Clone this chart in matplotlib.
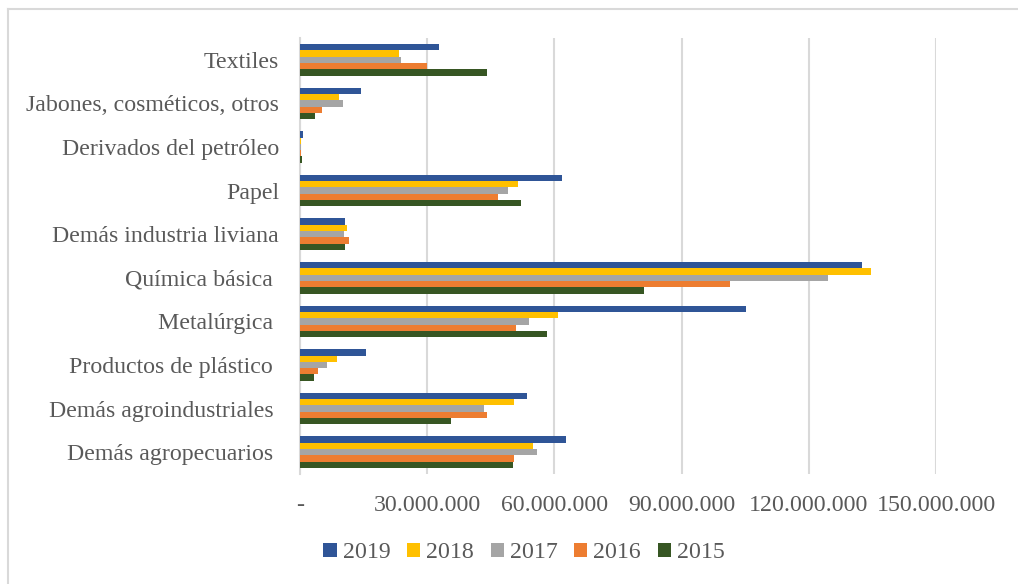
import matplotlib
matplotlib.use("Agg")
import matplotlib.pyplot as plt
import numpy as np
from matplotlib.lines import Line2D
from matplotlib.ticker import FuncFormatter

categories = ["Textiles", "Jabones, cosméticos, otros", "Derivados del petróleo", "Papel",
              "Demás industria liviana", "Química básica ", "Metalúrgica ",
              "Productos de plástico ", "Demás agroindustriales ", "Demás agropecuarios "]
years = ["2019", "2018", "2017", "2016", "2015"]
v2019 = [32.8e6, 14.3e6, 0.6e6, 61.9e6, 10.6e6, 132.5e6, 105.1e6, 15.5e6, 53.5e6, 62.7e6]
v2018 = [23.3e6, 9.2e6, 0.3e6, 51.4e6, 11.2e6, 134.7e6, 60.9e6, 8.7e6, 50.5e6, 55.0e6]
v2017 = [23.9e6, 10.2e6, 0.3e6, 49.1e6, 10.4e6, 124.5e6, 54.0e6, 6.4e6, 43.5e6, 55.9e6]
v2016 = [30.0e6, 5.3e6, 0.2e6, 46.7e6, 11.5e6, 101.4e6, 51.0e6, 4.2e6, 44.2e6, 50.5e6]
v2015 = [44.1e6, 3.6e6, 0.4e6, 52.2e6, 10.6e6, 81.2e6, 58.3e6, 3.2e6, 35.6e6, 50.2e6]
series = [v2019, v2018, v2017, v2016, v2015]
colors = ["#2F5597", "#FFC000", "#A5A5A5", "#ED7D31", "#375623"]
xticks = [0, 30e6, 60e6, 90e6, 120e6, 150e6]

plt.rcParams['font.family'] = ['Liberation Serif', 'DejaVu Serif']
txt = "#595959"
fs = 17.2

fig = plt.figure(figsize=(10.18, 5.84), dpi=100)
fig.add_artist(Line2D([8/1018, 8/1018], [0, 1 - 9/584], transform=fig.transFigure,
                      color="#D9D9D9", linewidth=1.5))
fig.add_artist(Line2D([8/1018, 1], [1 - 9/584, 1 - 9/584], transform=fig.transFigure,
                      color="#D9D9D9", linewidth=1.5))
ax = fig.add_axes([300/1018, 1 - 474/584, 636/1018, 436/584])

n = len(categories)
bh = 0.145
ypos = np.arange(n)
for i, (vals, col, yr) in enumerate(zip(series, colors, years)):
    offs = (i - 2) * bh
    ax.barh(ypos + offs, vals, height=bh, color=col, label=yr, edgecolor="none", zorder=3)

ax.set_ylim(n - 0.5, -0.5)
ax.set_xlim(0, 150e6)
ax.set_xticks(xticks)
ax.xaxis.set_major_formatter(FuncFormatter(
    lambda x, p: "-" if x == 0 else f"{int(x):,}".replace(",", ".")))
ax.set_yticks(ypos)
ax.set_yticklabels(categories)
ax.tick_params(axis='y', length=0, pad=15, labelsize=fs, labelcolor=txt)
ax.tick_params(axis='x', length=0, pad=15, labelsize=fs, labelcolor=txt)
ax.grid(axis='x', color="#D9D9D9", linewidth=1.5, zorder=0)
for s in ["top", "right", "bottom"]:
    ax.spines[s].set_visible(False)
ax.spines["left"].set_color("#D9D9D9")
ax.spines["left"].set_linewidth(1.5)

leg = fig.legend(loc="center", bbox_to_anchor=(524/1018, 1 - 553/584), ncol=5, frameon=False,
                 fontsize=fs, handlelength=0.55, handleheight=0.55, handletextpad=0.25,
                 columnspacing=0.7, labelcolor=txt)

fig.savefig("out.png", dpi=100)
